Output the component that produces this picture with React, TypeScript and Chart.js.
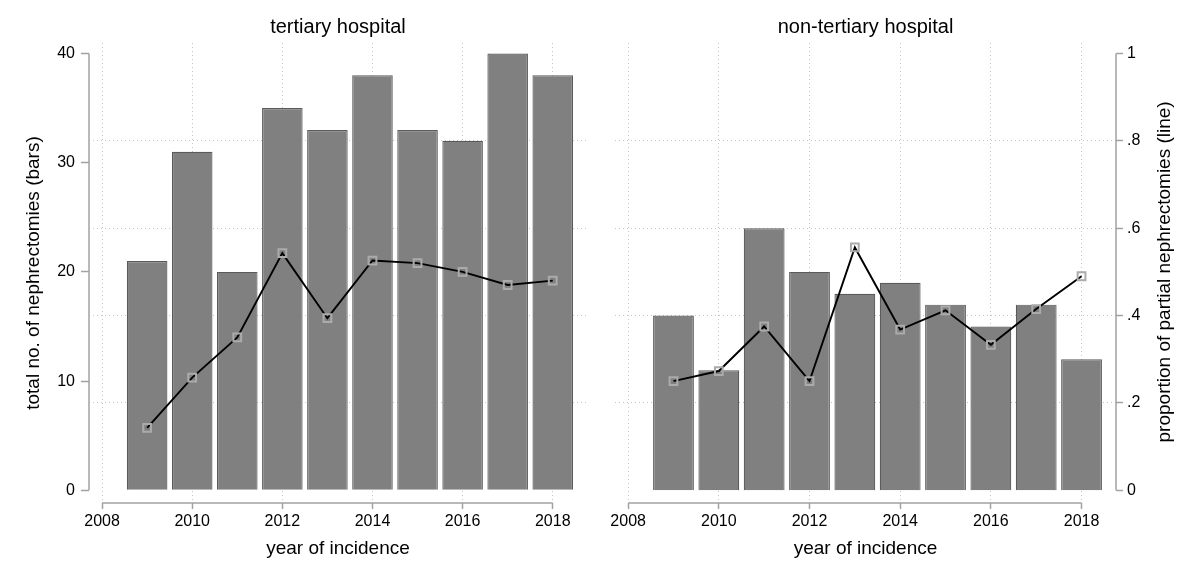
import React, { useEffect, useRef } from "react";
import { Chart, registerables } from "chart.js";

Chart.register(...registerables);

// ---------- data ----------
const years = [2009, 2010, 2011, 2012, 2013, 2014, 2015, 2016, 2017, 2018];
const xTickYears = [2008, 2010, 2012, 2014, 2016, 2018];
const countTicks = [0, 10, 20, 30, 40];
const propTicks = [0, 0.2, 0.4, 0.6, 0.8, 1];
const propGridTicks = [0.2, 0.4, 0.6, 0.8];

const tertiaryCounts = [21, 31, 20, 35, 33, 38, 33, 32, 40, 38];
const tertiaryProp = [0.143, 0.258, 0.35, 0.543, 0.394, 0.526, 0.52, 0.5, 0.47, 0.48];

const nonTertiaryCounts = [16, 11, 24, 20, 18, 19, 17, 15, 17, 12];
const nonTertiaryProp = [0.25, 0.273, 0.375, 0.25, 0.556, 0.368, 0.412, 0.333, 0.415, 0.49];

const panelTitles = ["tertiary hospital", "non-tertiary hospital"];
const xTitle = "year of incidence";
const leftTitle = "total no. of nephrectomies (bars)";
const rightTitle = "proportion of partial nephrectomies (line)";

// ---------- style ----------
const FONT = "'Liberation Sans', Arial, Helvetica, sans-serif";
const AXIS_COLOR = "#a3a3a3";
const GRID_COLOR = "#c4c4c4";
const BAR_FILL = "#808080";
const BAR_EDGE = "#5a5a5a";

const X_MIN = 2007.71;
const X_MAX = 2018.76;
const Y_MIN = -1.163;
const Y_MAX = 40.96;
const P_MIN = -0.0291;
const P_MAX = 1.024;

Chart.defaults.font.family = FONT;
Chart.defaults.color = "#000";

const fmtProp = (v: number) => {
  if (Math.abs(v) < 1e-9) return "0";
  if (Math.abs(v - 1) < 1e-9) return "1";
  return v.toFixed(1).replace(/^0\./, ".");
};

const axisLinesPlugin = {
  id: "axisLines",
  afterDraw(chart: any, _args: any, opts: any) {
    const { ctx, chartArea, scales } = chart;
    ctx.save();
    ctx.strokeStyle = AXIS_COLOR;
    ctx.lineWidth = 1.5;
    ctx.setLineDash([]);
    ctx.beginPath();
    const xs = scales.x;
    ctx.moveTo(xs.getPixelForValue(xTickYears[0]), chartArea.bottom);
    ctx.lineTo(xs.getPixelForValue(xTickYears[xTickYears.length - 1]), chartArea.bottom);
    if (opts.side === "left") {
      const ys = scales.y;
      ctx.moveTo(chartArea.left, ys.getPixelForValue(countTicks[0]));
      ctx.lineTo(chartArea.left, ys.getPixelForValue(countTicks[countTicks.length - 1]));
    } else {
      const ys = scales.y1;
      ctx.moveTo(chartArea.right, ys.getPixelForValue(propTicks[0]));
      ctx.lineTo(chartArea.right, ys.getPixelForValue(propTicks[propTicks.length - 1]));
    }
    ctx.stroke();
    if (opts.side === "right") {
      const ys = scales.y1;
      const cy = (ys.getPixelForValue(0) + ys.getPixelForValue(1)) / 2;
      ctx.translate(chart.width - 35.5, cy);
      ctx.rotate(-Math.PI / 2);
      ctx.fillStyle = "#000";
      ctx.font = `19px ${FONT}`;
      ctx.textAlign = "center";
      ctx.textBaseline = "middle";
      ctx.fillText(rightTitle, 0, 0);
    }
    ctx.restore();
  },
};

function makeConfig(side: "left" | "right", title: string, counts: number[], props: number[]) {
  const barData = years.map((yr, i) => ({ x: yr, y: counts[i] }));
  const lineData = years.map((yr, i) => ({ x: yr, y: props[i] }));
  return {
    type: "line" as const,
    data: {
      datasets: [
        {
          type: "line",
          label: "proportion",
          data: lineData,
          yAxisID: "y1",
          xAxisID: "x",
          order: 0,
          borderColor: "#000",
          borderWidth: 1.9,
          tension: 0,
          fill: false,
          pointStyle: "rect",
          pointRadius: 5.5,
          pointBorderWidth: 2,
          pointBorderColor: "#ababab",
          pointBackgroundColor: "rgba(0,0,0,0)",
        },
        {
          type: "bar",
          label: "count",
          data: barData,
          yAxisID: "y",
          xAxisID: "x",
          order: 1,
          backgroundColor: BAR_FILL,
          borderColor: BAR_EDGE,
          borderWidth: 1.2,
          barPercentage: 0.9,
          categoryPercentage: 1,
        },
      ],
    },
    options: {
      animation: false,
      responsive: false,
      devicePixelRatio: 1,
      layout: { padding: { left: side === "right" ? 15 : 0, right: 0, top: 0, bottom: 0 } },
      plugins: {
        legend: { display: false },
        tooltip: { enabled: false },
        title: {
          display: true,
          text: title,
          fullSize: false,
          color: "#000",
          font: { size: 20, weight: "normal" },
          padding: { top: 15, bottom: 4 },
        },
        axisLines: { side },
      },
      scales: {
        x: {
          type: "linear",
          position: "bottom",
          min: X_MIN,
          max: X_MAX,
          offset: false,
          afterBuildTicks: (s: any) => {
            s.ticks = xTickYears.map((v) => ({ value: v }));
          },
          afterFit: (s: any) => {
            s.height = 82;
          },
          ticks: {
            autoSkip: false,
            maxRotation: 0,
            padding: 3,
            color: "#000",
            font: { size: 16 },
            callback: (v: number) => String(v),
          },
          grid: {
            display: true,
            offset: false,
            drawOnChartArea: true,
            drawTicks: true,
            tickLength: 6,
            color: GRID_COLOR,
            lineWidth: 1,
            tickColor: AXIS_COLOR,
            tickWidth: 1.5,
            tickBorderDash: [],
          },
          border: { display: false, dash: [1, 3] },
          title: {
            display: true,
            text: xTitle,
            color: "#000",
            font: { size: 19 },
            padding: { top: 0, bottom: 25 },
          },
        },
        y: {
          type: "linear",
          position: "left",
          display: side === "left",
          min: Y_MIN,
          max: Y_MAX,
          afterBuildTicks: (s: any) => {
            s.ticks = countTicks.map((v) => ({ value: v }));
          },
          afterFit: (s: any) => {
            s.width = side === "left" ? 89 : 0;
          },
          ticks: {
            padding: 6,
            color: "#000",
            font: { size: 16 },
            callback: (v: number) => String(v),
          },
          grid: {
            display: true,
            drawOnChartArea: false,
            drawTicks: true,
            tickLength: 8,
            tickColor: AXIS_COLOR,
            tickWidth: 1.5,
            tickBorderDash: [],
          },
          border: { display: false },
          title: {
            display: true,
            text: leftTitle,
            color: "#000",
            font: { size: 19 },
            padding: { top: 22, bottom: 0 },
          },
        },
        y1: {
          type: "linear",
          position: "right",
          display: true,
          min: P_MIN,
          max: P_MAX,
          afterBuildTicks: (s: any) => {
            s.ticks = (side === "right" ? propTicks : propGridTicks).map((v) => ({ value: v }));
          },
          afterFit: (s: any) => {
            s.width = side === "right" ? 84 : 13;
          },
          ticks: {
            display: side === "right",
            padding: 4,
            color: "#000",
            font: { size: 16 },
            callback: (v: number) => fmtProp(v),
          },
          grid: {
            display: true,
            drawOnChartArea: true,
            drawTicks: side === "right",
            tickLength: 7,
            color: (c: any) =>
              c.tick && c.tick.value > 0.01 && c.tick.value < 0.99 ? GRID_COLOR : "rgba(0,0,0,0)",
            lineWidth: 1,
            tickColor: AXIS_COLOR,
            tickWidth: 1.5,
            tickBorderDash: [],
          },
          border: { display: false, dash: [1, 3] },
          title: { display: false },
        },
      },
    },
    plugins: [axisLinesPlugin],
  };
}

function Panel(props: { side: "left" | "right"; title: string; counts: number[]; prop: number[] }) {
  const ref = useRef<HTMLCanvasElement | null>(null);
  useEffect(() => {
    if (!ref.current) return;
    const chart = new Chart(ref.current, makeConfig(props.side, props.title, props.counts, props.prop) as any);
    return () => chart.destroy();
  }, [props.side, props.title, props.counts, props.prop]);
  return <canvas ref={ref} width={600} height={585} style={{ display: "block", width: 600, height: 585 }} />;
}

export default function App() {
  return (
    <div style={{ position: "absolute", left: 0, top: 0, width: 1200, height: 585, background: "#fff", display: "flex" }}>
      <Panel side="left" title={panelTitles[0]} counts={tertiaryCounts} prop={tertiaryProp} />
      <Panel side="right" title={panelTitles[1]} counts={nonTertiaryCounts} prop={nonTertiaryProp} />
    </div>
  );
}
